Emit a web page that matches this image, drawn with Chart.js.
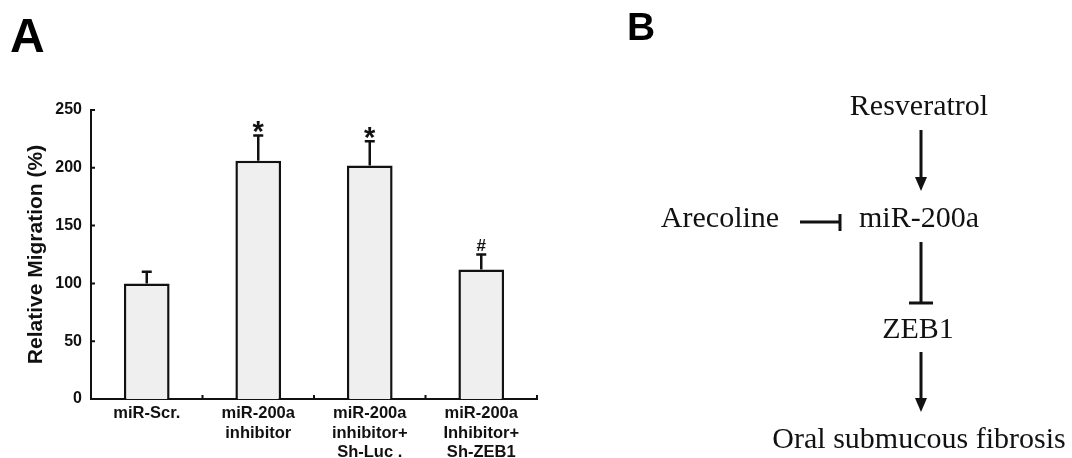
<!DOCTYPE html>
<html>
<head>
<meta charset="utf-8">
<script src="https://cdn.jsdelivr.net/npm/chart.js@4.4.1/dist/chart.umd.min.js"></script>
<style>
  html, body { margin: 0; padding: 0; background: #fff; }
  #wrap { position: relative; width: 1072px; height: 458px; overflow: hidden; }
  #chartBox { position: absolute; left: 0; top: 0; width: 560px; height: 458px; }
  #diagram { position: absolute; left: 0; top: 0; }
  #diagram .serif { font-family: "Liberation Serif", "Times New Roman", serif; font-size: 30px; fill: #111; }
  #diagram .panel { font-family: "Liberation Sans", Arial, sans-serif; font-weight: bold; fill: #000; }
</style>
</head>
<body>
<div id="wrap">
  <div id="chartBox"><canvas id="migChart"></canvas></div>
  <svg id="diagram" width="1072" height="458">
    <text class="panel" x="10" y="52" font-size="48">A</text>
    <text class="panel" x="627" y="40" font-size="39">B</text>

    <text class="serif" x="919" y="115" text-anchor="middle">Resveratrol</text>
    <text class="serif" x="720" y="227" text-anchor="middle">Arecoline</text>
    <text class="serif" x="919" y="227" text-anchor="middle">miR-200a</text>
    <text class="serif" x="918" y="338" text-anchor="middle">ZEB1</text>
    <text class="serif" x="919" y="448" text-anchor="middle">Oral submucous fibrosis</text>

    <g stroke="#111" stroke-width="3" fill="none">
      <line x1="921" y1="130" x2="921" y2="180"/>
      <line x1="800" y1="222" x2="840" y2="222"/>
      <line x1="840" y1="214" x2="840" y2="231"/>
      <line x1="921" y1="242" x2="921" y2="303"/>
      <line x1="909" y1="303" x2="933" y2="303"/>
      <line x1="921" y1="352" x2="921" y2="400"/>
    </g>
    <g fill="#111">
      <polygon points="915,177 927,177 921,191"/>
      <polygon points="915,398 927,398 921,412"/>
    </g>
  </svg>
</div>
<script>
  // Panel A data: relative migration (%) per treatment group
  var CATEGORIES = [
    ["miR-Scr."],
    ["miR-200a", "inhibitor"],
    ["miR-200a", "inhibitor+", "Sh-Luc ."],
    ["miR-200a", "Inhibitor+", "Sh-ZEB1"]
  ];
  var MIGRATION = [100, 206, 202, 112];
  var ERRORS = [10, 22, 21, 13];
  var MARKS = ["", "*", "*", "#"];
  var Y_TICKS = [0, 50, 100, 150, 200, 250];

  var SANS = "'Liberation Sans', Arial, sans-serif";

  // SD whiskers plus the significance marks above them.
  var errorBarPlugin = {
    id: "errorBars",
    afterDatasetsDraw: function (chart) {
      var meta = chart.getDatasetMeta(0), y = chart.scales.y, ctx = chart.ctx;
      ctx.save();
      ctx.strokeStyle = "#111";
      ctx.fillStyle = "#111";
      ctx.lineWidth = 2.5;
      ctx.textAlign = "center";
      ctx.textBaseline = "alphabetic";
      meta.data.forEach(function (bar, i) {
        var top = y.getPixelForValue(MIGRATION[i]);
        var hi = y.getPixelForValue(MIGRATION[i] + ERRORS[i]);
        ctx.beginPath();
        ctx.moveTo(bar.x, top);
        ctx.lineTo(bar.x, hi);
        ctx.moveTo(bar.x - 5, hi);
        ctx.lineTo(bar.x + 5, hi);
        ctx.stroke();
        if (MARKS[i] === "*") {
          ctx.font = "bold 29px " + SANS;
          ctx.fillText("*", bar.x, hi + 6);
        } else if (MARKS[i] === "#") {
          ctx.font = "bold 17px " + SANS;
          ctx.fillText("#", bar.x, hi - 4);
        }
      });
      ctx.restore();
    }
  };

  // Short tick marks pointing into the plot, like the original figure.
  var innerTicksPlugin = {
    id: "innerTicks",
    afterDraw: function (chart) {
      var ctx = chart.ctx, area = chart.chartArea;
      var x = chart.scales.x, y = chart.scales.y;
      var half = (x.getPixelForValue(1) - x.getPixelForValue(0)) / 2;
      ctx.save();
      ctx.strokeStyle = "#111";
      ctx.lineWidth = 2;
      ctx.beginPath();
      y.ticks.forEach(function (t) {
        var py = y.getPixelForValue(t.value);
        ctx.moveTo(area.left, py);
        ctx.lineTo(area.left + 4, py);
      });
      for (var i = 0; i < CATEGORIES.length; i++) {
        var px = x.getPixelForValue(i) + half;
        ctx.moveTo(px, area.bottom);
        ctx.lineTo(px, area.bottom - 4);
      }
      ctx.stroke();
      ctx.restore();
    }
  };

  new Chart(document.getElementById("migChart").getContext("2d"), {
    type: "bar",
    data: {
      labels: CATEGORIES,
      datasets: [{
        data: MIGRATION,
        backgroundColor: "#efefef",
        borderColor: "#111",
        borderWidth: 2.5,
        barPercentage: 0.41,
        categoryPercentage: 1
      }]
    },
    options: {
      responsive: true,
      maintainAspectRatio: false,
      animation: false,
      layout: { padding: { top: 110, right: 23, bottom: 0, left: 0 } },
      plugins: { legend: { display: false }, tooltip: { enabled: false } },
      scales: {
        x: {
          grid: { display: false, drawTicks: false },
          border: { display: true, color: "#111", width: 2 },
          afterFit: function (scale) { scale.height = 59; },
          ticks: {
            color: "#111",
            padding: 5,
            maxRotation: 0,
            autoSkip: false,
            font: { family: SANS, size: 16.5, weight: "bold", lineHeight: 1.18 }
          }
        },
        y: {
          min: 0,
          max: 250,
          grid: { display: false, drawTicks: false },
          border: { display: true, color: "#111", width: 2 },
          afterFit: function (scale) { scale.width = 91; },
          afterBuildTicks: function (scale) {
            scale.ticks = Y_TICKS.map(function (v) { return { value: v }; });
          },
          ticks: {
            color: "#111",
            padding: 9,
            font: { family: SANS, size: 16, weight: "bold" }
          },
          title: {
            display: true,
            text: "Relative Migration (%)",
            color: "#111",
            font: { family: SANS, size: 21, weight: "bold" },
            padding: { top: 24, bottom: 0 }
          }
        }
      }
    },
    plugins: [errorBarPlugin, innerTicksPlugin]
  });
</script>
</body>
</html>
